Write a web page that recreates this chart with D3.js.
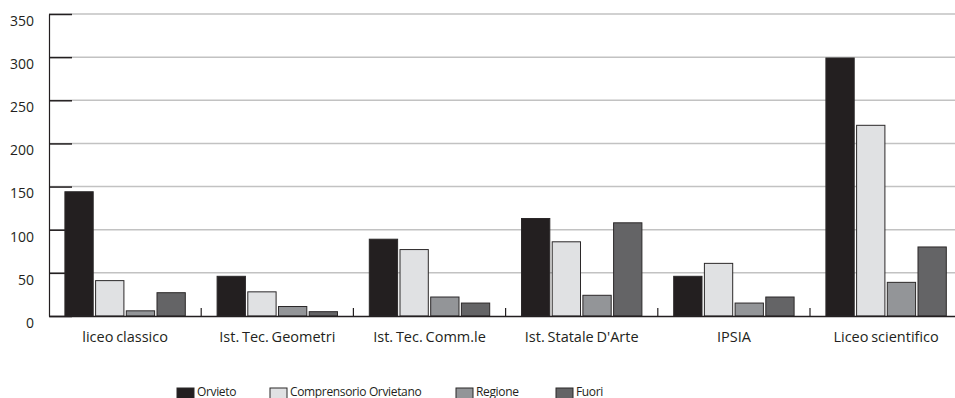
<!DOCTYPE html>
<html>
<head>
<meta charset="utf-8">
<script src="https://cdn.jsdelivr.net/npm/d3@7"></script>
<style>
  html, body { margin: 0; padding: 0; background: #fff; }
  svg { display: block; }
  text { font-family: "Open Sans", "DejaVu Sans", sans-serif; fill: #231f20; }
</style>
</head>
<body>
<svg id="chart" width="955" height="398"></svg>
<script>
// Schools (categories) and the four origin groups
const categories = ["liceo classico", "Ist. Tec. Geometri", "Ist. Tec. Comm.le", "Ist. Statale D'Arte", "IPSIA", "Liceo scientifico"];
const seriesNames = ["Orvieto", "Comprensorio Orvietano", "Regione", "Fuori"];
const orvieto      = [144, 46, 89, 113, 46, 299];
const comprensorio = [41, 28, 77, 86, 61, 221];
const regione      = [6, 11, 22, 24, 15, 39];
const fuori        = [27, 5, 15, 108, 22, 80];
const yTicks = [0, 50, 100, 150, 200, 250, 300, 350];
const seriesColors = ["#231f20", "#e0e1e3", "#939598", "#646466"];

const values = [orvieto, comprensorio, regione, fuori];
const svg = d3.select("#chart");

const plotLeft = 49, plotTop = 14, plotBottom = 316, bandW = 152.2;
const x0 = d3.scaleBand().domain(categories).range([plotLeft, plotLeft + bandW * categories.length]).padding(0);
const x1 = d3.scaleBand().domain(seriesNames).range([0, x0.bandwidth()]).paddingInner(0.078).paddingOuter(0.518);
const y = d3.scaleLinear().domain([0, 350]).range([plotBottom, plotTop]);

// horizontal gridlines
svg.append("g")
  .selectAll("line")
  .data(yTicks.filter(d => d > 0))
  .join("line")
  .attr("x1", plotLeft).attr("x2", 955)
  .attr("y1", d => y(d)).attr("y2", d => y(d))
  .attr("stroke", "#c2c2c2").attr("stroke-width", 1.5);

// y axis with inward ticks and labels
const yAxis = svg.append("g")
  .attr("transform", `translate(${plotLeft},0)`)
  .call(d3.axisRight(y).tickValues(yTicks).tickSize(23).tickSizeOuter(0).tickFormat(d3.format("d")));
yAxis.select(".domain").attr("stroke", "#231f20").attr("stroke-width", 1.2);
yAxis.selectAll(".tick line").attr("stroke", "#231f20").attr("stroke-width", 1.5);
yAxis.selectAll(".tick text")
  .attr("x", -15).attr("dy", "0.95em").attr("y", -2)
  .attr("text-anchor", "end")
  .style("font-size", "14px");

// bars
const groups = svg.append("g")
  .selectAll("g")
  .data(categories)
  .join("g")
  .attr("transform", d => `translate(${x0(d)},0)`);

groups.selectAll("rect")
  .data((c, i) => seriesNames.map((s, j) => ({ s, j, v: values[j][i] })))
  .join("rect")
  .attr("x", d => x1(d.s))
  .attr("width", x1.bandwidth())
  .attr("y", d => y(d.v))
  .attr("height", d => plotBottom - y(d.v))
  .attr("fill", d => seriesColors[d.j])
  .attr("stroke", "#2b2829")
  .attr("stroke-width", 1);

// x axis: baseline, inward ticks between categories, labels
const xAxis = svg.append("g")
  .attr("transform", `translate(0,${plotBottom})`)
  .call(d3.axisBottom(x0).tickSize(0).tickSizeOuter(0));
xAxis.select(".domain").attr("stroke", "#231f20").attr("stroke-width", 1.5);
xAxis.selectAll(".tick text")
  .attr("y", 26).attr("dy", 0)
  .style("font-size", "14.5px")
  .style("word-spacing", "-1px");

xAxis.append("g")
  .selectAll("line")
  .data(categories.slice(1))
  .join("line")
  .attr("x1", d => x0(d)).attr("x2", d => x0(d))
  .attr("y1", 0).attr("y2", -8)
  .attr("stroke", "#231f20").attr("stroke-width", 1.2);

// legend
const legendX = [177, 270, 456, 556];
const legend = svg.append("g")
  .selectAll("g")
  .data(seriesNames)
  .join("g")
  .attr("transform", (d, i) => `translate(${legendX[i]},388)`);
legend.append("rect")
  .attr("width", 17).attr("height", 14)
  .attr("fill", (d, i) => seriesColors[i])
  .attr("stroke", "#2b2829").attr("stroke-width", 1);
legend.append("text")
  .attr("x", 20).attr("y", 7.5)
  .style("font-size", "12px")
  .style("letter-spacing", "-0.35px")
  .text(d => d);
</script>
</body>
</html>
